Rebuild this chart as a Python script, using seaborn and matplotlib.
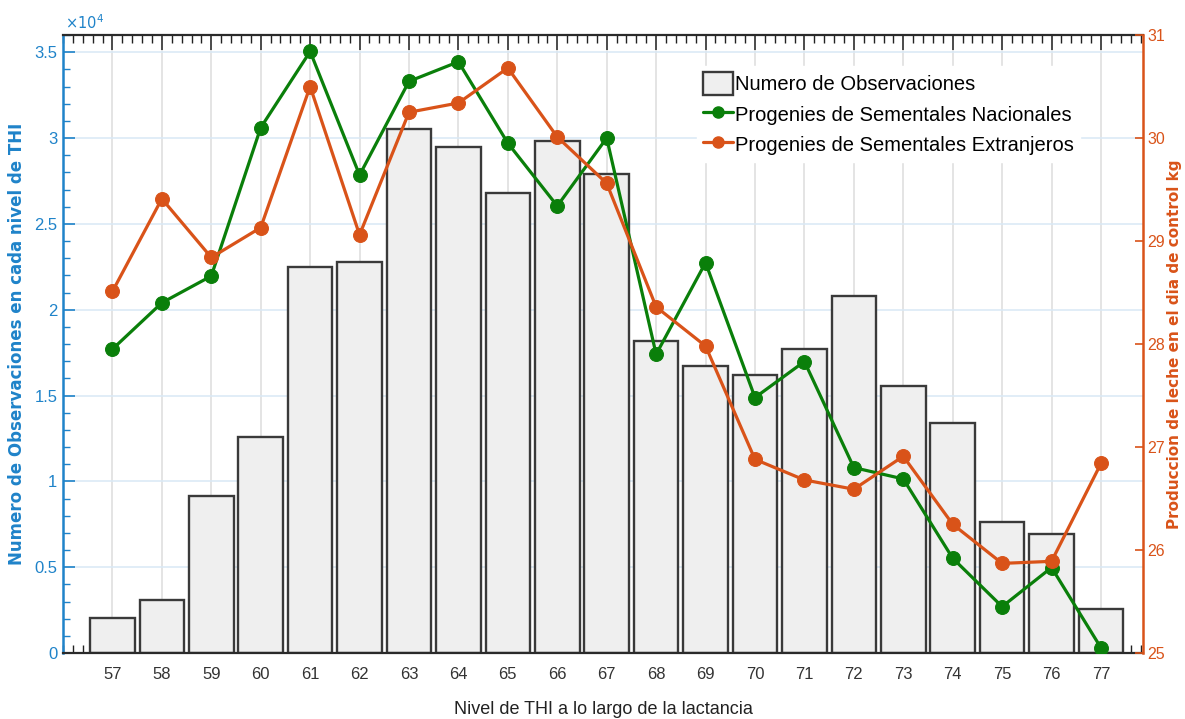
import matplotlib
matplotlib.use("Agg")
import matplotlib.pyplot as plt
from matplotlib import font_manager
from matplotlib.ticker import MultipleLocator, FuncFormatter
from matplotlib.patches import Patch
from matplotlib.lines import Line2D
import seaborn as sns
import pandas as pd

# THI levels and the values per level
thi = list(range(57, 78))
observaciones = [2060, 3090, 9140, 12580, 22500, 22800, 30500, 29500, 26800, 29800,
                 27900, 18170, 16700, 16200, 17700, 20800, 15550, 13400, 7630, 6930, 2560]
nacionales = [27.95, 28.40, 28.66, 30.10, 30.84, 29.64, 30.55, 30.74, 29.95, 29.34,
              30.00, 27.90, 28.79, 27.48, 27.83, 26.80, 26.69, 25.92, 25.45, 25.83, 25.05]
extranjeros = [28.51, 29.41, 28.84, 29.13, 30.50, 29.06, 30.25, 30.34, 30.68, 30.01,
               29.56, 28.36, 27.98, 26.88, 26.68, 26.59, 26.91, 26.25, 25.87, 25.89, 26.84]

label_bars = "Numero de Observaciones"
label_nac = "Progenies de Sementales Nacionales"
label_ext = "Progenies de Sementales Extranjeros"
xlabel = "Nivel de THI a lo largo de la lactancia"
ylabel_left = "Numero de Observaciones en cada nivel de THI"
ylabel_right = "Produccion de leche en el dia de control kg"

BLUE = "#1f83c9"
ORANGE = "#D95319"
GREEN = "#0a7f0a"
BAR_FACE = "#efefef"
BAR_EDGE = "#3a3a3a"

sns.set_theme(style="white")
installed = {f.name for f in font_manager.fontManager.ttflist}
narrow = "Liberation Sans Narrow" if "Liberation Sans Narrow" in installed else "Liberation Sans"
plt.rcParams["font.family"] = ["Liberation Sans", "DejaVu Sans"]
plt.rcParams["mathtext.fontset"] = "dejavusans"

fig = plt.figure(figsize=(11.85, 7.19), dpi=100)
fig.patch.set_facecolor("white")
ax = fig.add_axes([63 / 1185, 1 - 653 / 719, (1143 - 63) / 1185, (653 - 35) / 719])
ax.set_facecolor("white")

df_bars = pd.DataFrame({"THI": thi, "obs": observaciones})
sns.barplot(data=df_bars, x="THI", y="obs", native_scale=True, width=0.9,
            color=BAR_FACE, saturation=1, edgecolor=BAR_EDGE, linewidth=1.7,
            ax=ax, zorder=2)

ax.set_xlim(56.0, 77.85)
ax.set_ylim(0, 36000)
ax.xaxis.set_major_locator(MultipleLocator(1))
ax.xaxis.set_minor_locator(MultipleLocator(0.2))
ax.yaxis.set_major_locator(MultipleLocator(5000))
ax.yaxis.set_minor_locator(MultipleLocator(1000))
ax.set_xticks(thi)
ax.set_xticklabels([str(v) for v in thi])


def fmt_left(v, pos):
    s = f"{v / 1e4:.1f}"
    return s[:-2] if s.endswith(".0") else s


ax.yaxis.set_major_formatter(FuncFormatter(fmt_left))

ax.set_axisbelow(True)
ax.grid(axis="y", which="major", color="#d9e8f5", linewidth=1.1)
ax.grid(axis="x", which="major", color="#dcdcdc", linewidth=1.1)

ax.tick_params(axis="x", which="major", direction="in", top=True, bottom=True,
               length=10.5, width=1.1, color="#222222", pad=10,
               labelsize=12, labelcolor="#333333")
ax.tick_params(axis="x", which="minor", direction="in", top=True, bottom=True,
               length=5.5, width=1.0, color="#222222")
ax.tick_params(axis="y", which="major", direction="in", left=True, right=False,
               length=8.5, width=1.2, color=BLUE, pad=4, labelsize=12, labelcolor=BLUE)
ax.tick_params(axis="y", which="minor", direction="in", left=True, right=False,
               length=5, width=1.0, color=BLUE)
for lab in ax.get_xticklabels() + ax.get_yticklabels():
    lab.set_family([narrow, "DejaVu Sans"])

for side in ("top", "bottom"):
    ax.spines[side].set_color("#2a2a2a")
    ax.spines[side].set_linewidth(1.6)
ax.spines["left"].set_color(BLUE)
ax.spines["left"].set_linewidth(1.8)
ax.spines["right"].set_visible(False)

ax.set_xlabel(xlabel, fontsize=13, color="#222222", family=[narrow, "DejaVu Sans"])
ax.xaxis.set_label_coords(0.5, -0.077)
ax.set_ylabel(ylabel_left, fontsize=12, fontweight="bold", color=BLUE,
              family=["DejaVu Sans"])
ax.yaxis.set_label_coords(-0.034, 0.5)

fig.text(65 / 1185, 1 - 29 / 719, r"$\times10^{4}$", color=BLUE, fontsize=10.5,
         ha="left", va="baseline")

# milk production lines on the right-hand axis
ax2 = ax.twinx()
sns.lineplot(x=thi, y=nacionales, ax=ax2, color=GREEN, linewidth=2.3, marker="o",
             markersize=10, markeredgecolor=GREEN, markerfacecolor=GREEN, zorder=3)
sns.lineplot(x=thi, y=extranjeros, ax=ax2, color=ORANGE, linewidth=2.3, marker="o",
             markersize=10, markeredgecolor=ORANGE, markerfacecolor=ORANGE, zorder=3)
ax2.set_ylim(25, 31)
ax2.yaxis.set_major_locator(MultipleLocator(1))
ax2.tick_params(axis="y", which="major", direction="in", right=True, left=False,
                length=5.8, width=1.2, color=ORANGE, pad=3, labelsize=11.5, labelcolor=ORANGE)
for lab in ax2.get_yticklabels():
    lab.set_family([narrow, "DejaVu Sans"])
for side in ("top", "bottom", "left"):
    ax2.spines[side].set_visible(False)
ax2.spines["right"].set_visible(True)
ax2.spines["right"].set_color(ORANGE)
ax2.spines["right"].set_linewidth(1.8)
ax2.grid(False)
ax2.set_ylabel(ylabel_right, fontsize=11, fontweight="bold", color=ORANGE,
               family=["DejaVu Sans"])
ax2.yaxis.set_label_coords((1167 - 63) / 1080, 0.5)

handles = [
    Patch(facecolor=BAR_FACE, edgecolor=BAR_EDGE, linewidth=1.7),
    Line2D([], [], color=GREEN, linewidth=2.3, marker="o", markersize=8),
    Line2D([], [], color=ORANGE, linewidth=2.3, marker="o", markersize=8),
]
leg = ax2.legend(handles, [label_bars, label_nac, label_ext], loc="upper left",
                 bbox_to_anchor=(697 / 1185, 1 - 66 / 719), bbox_transform=fig.transFigure,
                 fontsize=14.5, frameon=True, facecolor="white", edgecolor="white",
                 framealpha=1, fancybox=False, handlelength=1.5, handleheight=1.35,
                 handletextpad=0.1, labelspacing=0.4, borderpad=0.3, borderaxespad=0)
for t in leg.get_texts():
    t.set_color("black")

fig.savefig("out.png", dpi=100, facecolor="white")
